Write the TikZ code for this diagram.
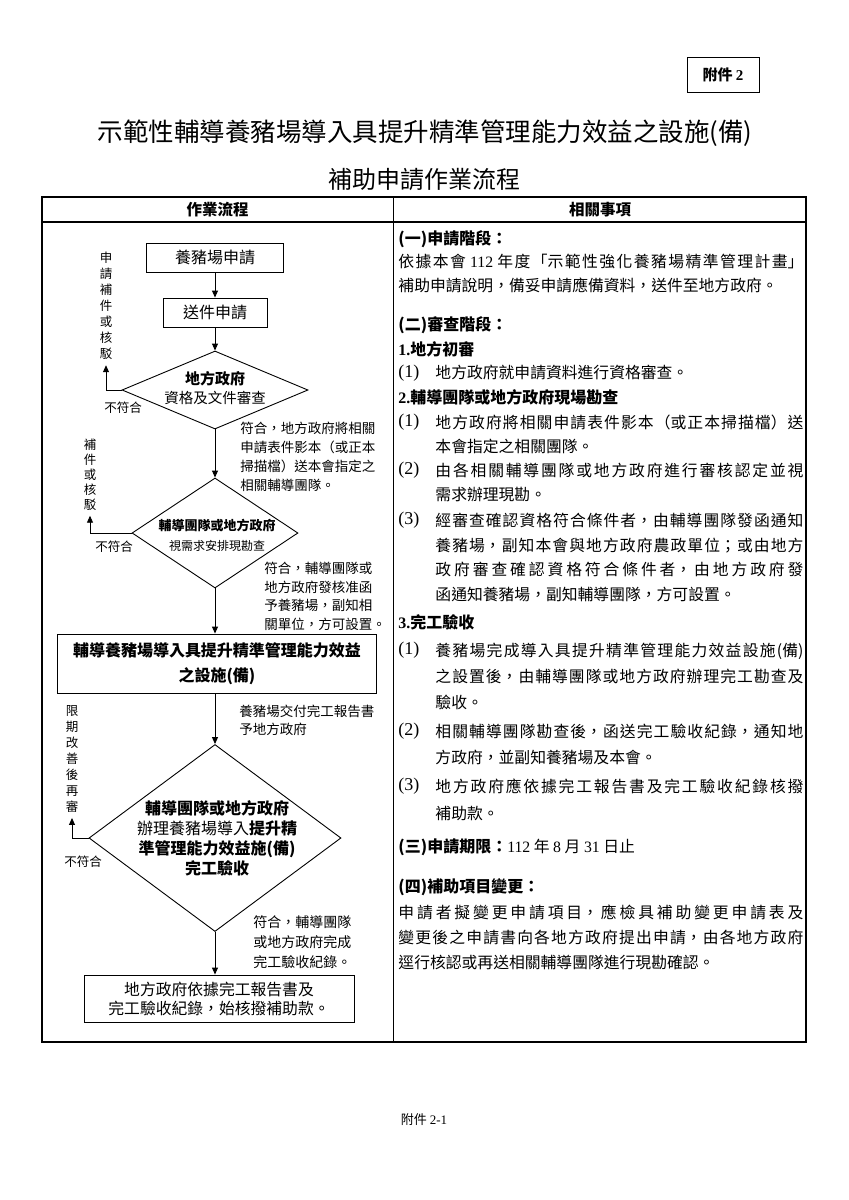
\documentclass[tikz,border=0pt]{standalone}
\usepackage{fontspec}
\setmainfont{Noto Sans CJK TC}
\newfontfamily\latinfont{Liberation Serif}
\usetikzlibrary{shapes.geometric,arrows.meta}
\XeTeXlinebreaklocale "zh"
\XeTeXlinebreakskip=0pt plus 4pt
\tolerance=9999
\newcommand{\fs}[2]{\fontsize{#1}{#2}\selectfont}

\begin{document}
\begin{tikzpicture}[x=1pt, y=-1pt, line width=0.9pt, >={Triangle[length=7pt,width=6pt]},
  flowbox/.style={draw, inner sep=0pt, align=center},
  decision/.style={draw, diamond, inner sep=0pt},
  note/.style={anchor=north west, inner sep=0pt, align=left},
  vtext/.style={align=center, inner sep=5pt, font=\fs{12.5}{16}},
  fail/.style={font=\fs{12.5}{15}, inner sep=0pt},
  head/.style={anchor=west, inner sep=0pt, font=\bfseries\fs{16}{20}},
  itemmark/.style={anchor=west, inner sep=0pt, font=\latinfont\fs{18}{20}},
  para/.style={anchor=north west, inner sep=0pt, align=justify, text width=368pt}]
\useasboundingbox (0,0) rectangle (849,1200);
\fill[white] (0,0) rectangle (849,1200);

% title and table frame
\node[font=\fs{25.5}{30}] (title) at (425,133) {示範性輔導養豬場導入具提升精準管理能力效益之設施(備)};
\node[font=\fs{24}{28}] (subtitle) at (424,180) {補助申請作業流程};
\node[draw, inner sep=0pt, minimum width=72pt, minimum height=35pt, font=\bfseries\fs{15}{18}] (annex) at (723,74.5) {附件 {\latinfont 2}};
\draw[line width=1.2pt] (42,197) rectangle (806,1042);
\draw[line width=1.2pt] (42,222) -- (806,222);
\draw (393,197) -- (393,1042);
\node[font=\bfseries\fs{15.5}{18}] (colflow) at (217.5,209.5) {作業流程};
\node[font=\bfseries\fs{15.5}{18}] (colnotes) at (600,209.5) {相關事項};

% flow chart
\node[flowbox, minimum width=137pt, minimum height=29pt, font=\fs{16}{20}] (apply) at (215,257.5) {養豬場申請};
\node[flowbox, minimum width=104pt, minimum height=29pt, font=\fs{16}{20}] (submit) at (215,312.5) {送件申請};
\node[decision, minimum width=186pt, minimum height=78pt] (govchk) at (215,390) {};
\node[align=center, font=\fs{14.5}{19}] (govtxt) at (215,388) {\textbf{\fs{15}{19}地方政府}\\資格及文件審查};
\node[decision, minimum width=166pt, minimum height=110pt] (teamchk) at (215,533) {};
\node[align=center, font=\fs{12}{20}] (teamtxt) at (217,535) {\textbf{\fs{13}{20}輔導團隊或地方政府}\\視需求安排現勘查};
\node[flowbox, minimum width=319pt, minimum height=59pt, font=\bfseries\fs{16}{25}] (install) at (217,663.5) {輔導養豬場導入具提升精準管理能力效益\\之設施(備)};
\node[decision, minimum width=252pt, minimum height=187pt] (accept) at (215,838) {};
\node[align=center, font=\fs{16}{20}] (accepttxt) at (217,838) {\textbf{輔導團隊或地方政府}\\辦理養豬場導入\textbf{提升精}\\\textbf{準管理能力效益施(備)}\\\textbf{完工驗收}};
\node[flowbox, minimum width=270pt, minimum height=47pt, font=\fs{15.8}{19}] (payout) at (219,998.5) {地方政府依據完工報告書及\\完工驗收紀錄，始核撥補助款。};

\draw[->] (apply) -- (submit);
\draw[->] (submit) -- (govchk);
\draw[->] (govchk) -- (teamchk);
\draw[->] (teamchk.south) -- (teamchk.south |- install.north);
\draw[->] (accept.north |- install.south) -- (accept.north);
\draw[->] (accept.south) -- (accept.south |- payout.north);

% return loops
\node[vtext] (redo1) at (106,306) {申\\請\\補\\件\\或\\核\\駁};
\draw[->] (govchk.west) -| (redo1.south);
\node[fail] (fail1) at (123,408) {不符合};
\node[vtext, font=\fs{12.5}{15}] (redo2) at (90,474.5) {補\\件\\或\\核\\駁};
\draw[->] (teamchk.west) -| (redo2.south);
\node[fail] (fail2) at (114,547) {不符合};
\node[vtext] (redo3) at (72,759) {限\\期\\改\\善\\後\\再\\審};
\draw[->] (accept.west) -| (redo3.south);
\node[fail] (fail3) at (83,862) {不符合};

% notes beside the arrows
\node[note, font=\fs{13.5}{19}] (okgov) at (240,421.7) {符合，地方政府將相關\\申請表件影本（或正本\\掃描檔）送本會指定之\\相關輔導團隊。};
\node[note, font=\fs{13.5}{18.7}] (okteam) at (264,561.7) {符合，輔導團隊或\\地方政府發核准函\\予養豬場，副知相\\關單位，方可設置。};
\node[note, font=\fs{13.5}{18}] (report) at (239,704.7) {養豬場交付完工報告書\\予地方政府};
\node[note, font=\fs{14}{20}] (okaccept) at (253,915.5) {符合，輔導團隊\\或地方政府完成\\完工驗收紀錄。};

% right column
\node[head] (stage1) at (398,239) {(一)申請階段：};
\node[para, text width=405pt, font=\fs{15.8}{24}] (stage1txt) at (398,253.6) {依據本會 {\latinfont 112} 年度「示範性強化養豬場精準管理計畫」\linebreak 補助申請說明，備妥申請應備資料，送件至地方政府。};
\node[head] (stage2) at (398,325) {(二)審查階段：};
\node[head] (step1) at (398,349) {{\latinfont 1.}地方初審};
\node[itemmark] (m11) at (398,373) {(1)};
\node[anchor=west, inner sep=0pt, font=\fs{15.8}{24}] (t11) at (435,373) {地方政府就申請資料進行資格審查。};
\node[head] (step2) at (398,397) {{\latinfont 2.}輔導團隊或地方政府現場勘查};
\node[itemmark] (m21) at (398,422) {(1)};
\node[para, font=\fs{15.8}{24.3}] (t21) at (435,414.6) {地方政府將相關申請表件影本（或正本掃描檔）送\linebreak 本會指定之相關團隊。};
\node[itemmark] (m22) at (398,470) {(2)};
\node[para, font=\fs{15.8}{24.3}] (t22) at (435,462.6) {由各相關輔導團隊或地方政府進行審核認定並視\linebreak 需求辦理現勘。};
\node[itemmark] (m23) at (398,520) {(3)};
\node[para, font=\fs{15.8}{24.7}] (t23) at (435,512.6) {經審查確認資格符合條件者，由輔導團隊發函通知\linebreak 養豬場，副知本會與地方政府農政單位；或由地方\linebreak 政府審查確認資格符合條件者，由地方政府發\linebreak 函通知養豬場，副知輔導團隊，方可設置。};
\node[head] (step3) at (398,622) {{\latinfont 3.}完工驗收};
\node[itemmark] (m31) at (398,650) {(1)};
\node[para, font=\fs{15.8}{26}] (t31) at (435,642.6) {養豬場完成導入具提升精準管理能力效益設施(備)\linebreak 之設置後，由輔導團隊或地方政府辦理完工勘查及\linebreak 驗收。};
\node[itemmark] (m32) at (398,731) {(2)};
\node[para, font=\fs{15.8}{26}] (t32) at (435,723.6) {相關輔導團隊勘查後，函送完工驗收紀錄，通知地\linebreak 方政府，並副知養豬場及本會。};
\node[itemmark] (m33) at (398,786) {(3)};
\node[para, font=\fs{15.8}{27}] (t33) at (435,778.6) {地方政府應依據完工報告書及完工驗收紀錄核撥\linebreak 補助款。};
\node[head] (stage3) at (398,847) {(三)申請期限：\mdseries\fs{15.8}{20}{\latinfont 112} 年 {\latinfont 8} 月 {\latinfont 31} 日止};
\node[head] (stage4) at (398,887) {(四)補助項目變更：};
\node[para, text width=405pt, font=\fs{15.8}{25}] (stage4txt) at (398,904.6) {申請者擬變更申請項目，應檢具補助變更申請表及\linebreak 變更後之申請書向各地方政府提出申請，由各地方政府\linebreak 逕行核認或再送相關輔導團隊進行現勘確認。};

\node[font=\fs{13}{16}] (pageno) at (424,1120) {附件 {\latinfont 2-1}};
\end{tikzpicture}
\end{document}
